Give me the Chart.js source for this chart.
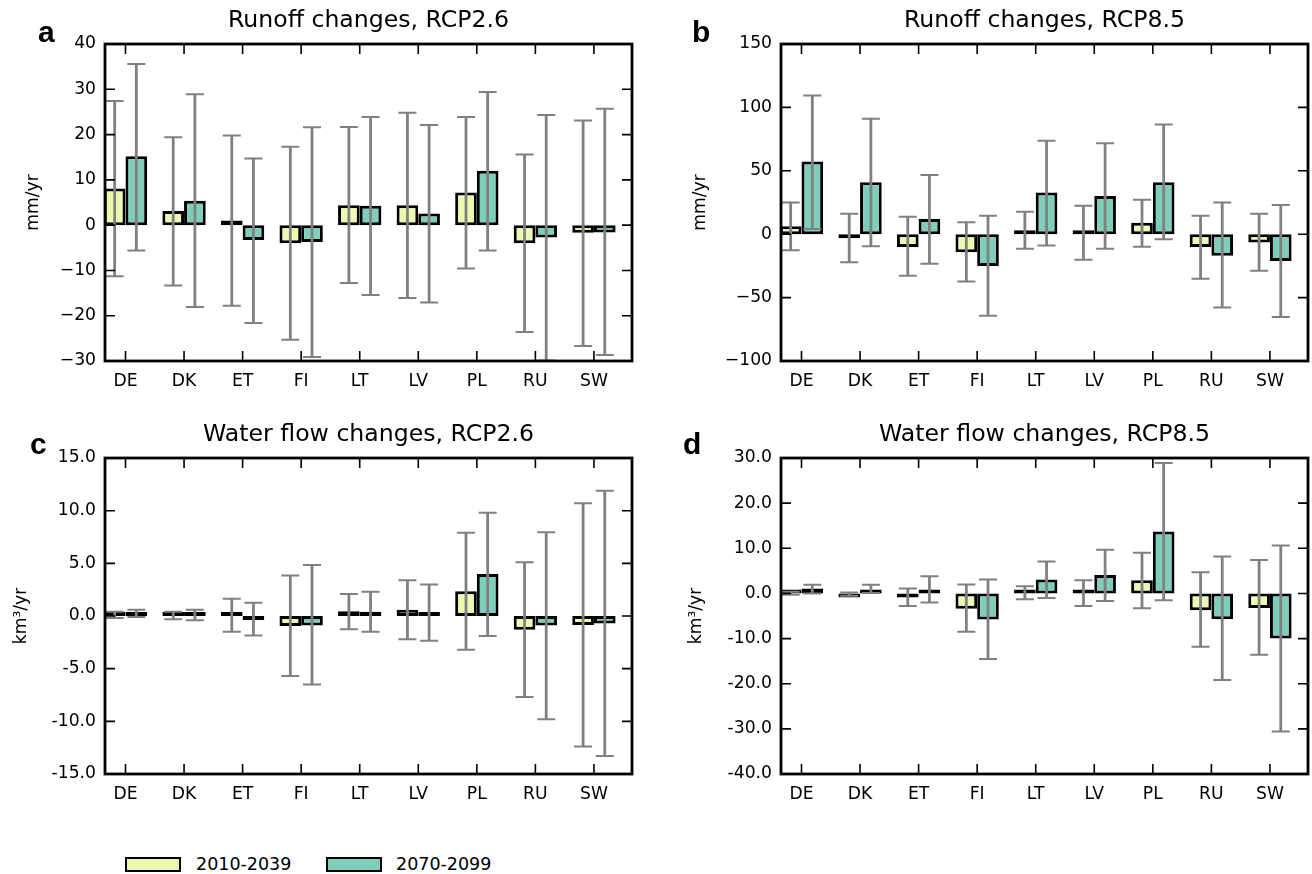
<!DOCTYPE html>
<html>
<head>
<meta charset="utf-8">
<script src="https://cdn.jsdelivr.net/npm/chart.js@4.4.1/dist/chart.umd.min.js"></script>
<style>
html,body{margin:0;padding:0;background:#fff;}
#wrap{position:relative;width:1312px;height:874px;overflow:hidden;font-family:'DejaVu Sans',sans-serif;background:#fff;}
.panel{position:absolute;}
.panel canvas{display:block;}
.letter{position:absolute;font-family:'Liberation Sans',Arial,sans-serif;font-weight:bold;font-size:30px;line-height:30px;color:#000;}
.leg-box{position:absolute;width:56px;height:15px;box-sizing:border-box;border:2.8px solid #000;}
.leg-text{position:absolute;font-family:'DejaVu Sans',sans-serif;font-size:17.5px;line-height:20px;color:#000;white-space:nowrap;}
</style>
</head>
<body>
<div id="wrap">
  <div class="panel" style="left:0px;top:0px"><canvas id="ca" width="656" height="400"></canvas></div>
  <div class="panel" style="left:676px;top:0px"><canvas id="cb" width="636" height="400"></canvas></div>
  <div class="panel" style="left:0px;top:414px"><canvas id="cc" width="656" height="400"></canvas></div>
  <div class="panel" style="left:676px;top:414px"><canvas id="cd" width="636" height="400"></canvas></div>

  <div class="letter" style="left:38px;top:17px">a</div>
  <div class="letter" style="left:692px;top:17px">b</div>
  <div class="letter" style="left:30px;top:429px">c</div>
  <div class="letter" style="left:683px;top:429px">d</div>

  <div id="legend"></div>
</div>
<script>
// ---------------- DATA ----------------
const categories = ['DE','DK','ET','FI','LT','LV','PL','RU','SW'];
const seriesNames = ['2010-2039', '2070-2099'];

// Panel a: Runoff changes, RCP2.6 (mm/yr)
const a_early    = [8.1, 3.1, 1.0, -4.0, 4.4, 4.4, 7.2, -4.0, -1.7];
const a_early_lo = [-11.3, -13.3, -17.8, -25.3, -12.8, -16.1, -9.6, -23.6, -26.7];
const a_early_hi = [27.4, 19.4, 19.8, 17.3, 21.7, 24.8, 23.9, 15.6, 23.1];
const a_late     = [15.2, 5.4, -3.3, -3.7, 4.3, 2.6, 12.0, -2.7, -1.6];
const a_late_lo  = [-5.6, -18.1, -21.6, -29.1, -15.4, -17.1, -5.6, -29.9, -28.7];
const a_late_hi  = [35.6, 28.9, 14.7, 21.6, 23.9, 22.1, 29.4, 24.3, 25.7];
const a_ticks    = [-30, 40, 10];

// Panel b: Runoff changes, RCP8.5 (mm/yr)
const b_early    = [6.3, -3.2, -10.0, -14.3, 3.2, 0.5, 9.0, -10.0, -6.6];
const b_early_lo = [-12.7, -22.2, -32.8, -37.3, -11.4, -20.1, -9.8, -35.2, -28.8];
const b_early_hi = [25.1, 16.1, 13.8, 9.5, 17.7, 22.5, 27.2, 14.6, 16.1];
const b_late     = [57.4, 41.0, 11.9, -25.1, 32.8, 30.2, 41.0, -16.9, -21.2];
const b_late_lo  = [4.2, -9.5, -23.3, -64.3, -9.0, -11.4, -4.0, -57.9, -65.3];
const b_late_hi  = [109.3, 91.0, 46.6, 14.6, 73.8, 71.7, 86.5, 25.1, 23.0];
const b_ticks    = [-100, 150, 50];

// Panel c: Water flow changes, RCP2.6 (km3/yr)
const c_early    = [0.15, 0.05, 0.05, -0.95, 0.45, 0.6, 2.35, -1.3, -0.85];
const c_early_lo = [-0.2, -0.3, -1.5, -5.7, -1.25, -2.2, -3.2, -7.7, -12.4];
const c_early_hi = [0.4, 0.4, 1.65, 3.85, 2.1, 3.4, 7.9, 5.1, 10.7];
const c_late     = [0.25, 0.1, -0.3, -0.9, 0.4, 0.35, 4.0, -0.9, -0.7];
const c_late_lo  = [-0.1, -0.4, -1.85, -6.5, -1.5, -2.35, -1.9, -9.8, -13.3];
const c_late_hi  = [0.6, 0.6, 1.25, 4.85, 2.3, 3.0, 9.8, 7.95, 11.9];
const c_ticks    = [-15, 15, 5];

// Panel d: Water flow changes, RCP8.5 (km3/yr)
const d_early    = [0.1, -0.3, -0.9, -3.4, 0.3, 0.1, 2.9, -3.7, -3.2];
const d_early_lo = [-0.3, -0.5, -2.8, -8.5, -1.3, -2.8, -3.3, -11.8, -13.6];
const d_early_hi = [0.35, 0.2, 1.1, 2.0, 1.6, 2.9, 9.0, 4.7, 7.4];
const d_late     = [1.1, 0.9, 0.9, -5.8, 3.1, 4.1, 13.7, -5.7, -10.0];
const d_late_lo  = [0.0, 0.1, -2.0, -14.5, -1.0, -1.7, -1.5, -19.2, -30.6];
const d_late_hi  = [1.9, 1.9, 3.8, 3.1, 7.1, 9.7, 28.9, 8.2, 10.6];
const d_ticks    = [-40, 30, 10];

// ---------------- STYLE ----------------
const COL_EARLY = '#edf8b1';
const COL_LATE  = '#7fcdbb';
const COL_ERR   = '#808080';
const FONT = "'DejaVu Sans'";

Chart.defaults.font.family = FONT;
Chart.defaults.color = '#000';

const mplPlugin = {
  id: 'mplDecor',
  afterDatasetsDraw(chart) {
    const ctx = chart.ctx;
    const ca = chart.chartArea;
    const xs = chart.scales.x, ys = chart.scales.y;
    // error bars
    ctx.save();
    ctx.beginPath();
    ctx.rect(ca.left, ca.top, ca.right - ca.left, ca.bottom - ca.top);
    ctx.clip();
    ctx.strokeStyle = COL_ERR;
    ctx.lineCap = 'butt';
    chart.data.datasets.forEach((ds, di) => {
      const meta = chart.getDatasetMeta(di);
      meta.data.forEach((bar, i) => {
        const px = bar.x;
        const yh = ys.getPixelForValue(ds.errHigh[i]);
        const yl = ys.getPixelForValue(ds.errLow[i]);
        ctx.lineWidth = 2.8;
        ctx.beginPath();
        ctx.moveTo(px, yh); ctx.lineTo(px, yl);
        ctx.stroke();
        ctx.lineWidth = 2;
        ctx.beginPath();
        ctx.moveTo(px - 9, yh); ctx.lineTo(px + 9, yh);
        ctx.moveTo(px - 9, yl); ctx.lineTo(px + 9, yl);
        ctx.stroke();
      });
    });
    ctx.restore();
    // inward ticks on all four sides + frame
    ctx.save();
    ctx.strokeStyle = '#000';
    ctx.lineWidth = 1.6;
    const TL = 10;
    ctx.beginPath();
    ys.ticks.forEach(t => {
      const py = ys.getPixelForValue(t.value);
      ctx.moveTo(ca.left, py); ctx.lineTo(ca.left + TL, py);
      ctx.moveTo(ca.right, py); ctx.lineTo(ca.right - TL, py);
    });
    xs.ticks.forEach(t => {
      const px = xs.getPixelForValue(t.value);
      ctx.moveTo(px, ca.bottom); ctx.lineTo(px, ca.bottom - TL);
      ctx.moveTo(px, ca.top); ctx.lineTo(px, ca.top + TL);
    });
    ctx.stroke();
    ctx.lineWidth = 2.8;
    ctx.strokeRect(ca.left, ca.top, ca.right - ca.left, ca.bottom - ca.top);
    ctx.restore();
  }
};

function fmtMinus(v) { return v < 0 ? '\u2212' + Math.abs(v) : String(v); }
function fmtOneDec(v) { return Number(v).toFixed(1); }

function makePanel(id, opt) {
  const mkData = arr => arr.map((v, i) => ({x: i, y: v}));
  const dsCommon = {
    borderColor: '#000',
    borderWidth: 3,
    borderSkipped: false,
    minBarLength: 4,
    categoryPercentage: 0.74,
    barPercentage: 1.0
  };
  return new Chart(document.getElementById(id), {
    type: 'bar',
    data: {
      datasets: [
        Object.assign({label: seriesNames[0], data: mkData(opt.early), backgroundColor: COL_EARLY,
          errLow: opt.earlyLo, errHigh: opt.earlyHi}, dsCommon),
        Object.assign({label: seriesNames[1], data: mkData(opt.late), backgroundColor: COL_LATE,
          errLow: opt.lateLo, errHigh: opt.lateHi}, dsCommon)
      ]
    },
    options: {
      responsive: false,
      animation: false,
      layout: {padding: {left: 0, right: opt.padRight, top: 0, bottom: 0}},
      plugins: {
        legend: {display: false},
        tooltip: {enabled: false},
        title: {
          display: true,
          text: opt.title,
          fullSize: false,
          color: '#000',
          font: {family: FONT, size: 23.6, weight: 'normal', lineHeight: 1.2},
          padding: {top: 7, bottom: 8.7}
        }
      },
      scales: {
        x: {
          type: 'linear',
          offset: false,
          min: -0.35,
          max: 8.65,
          grid: {display: false, drawTicks: false},
          border: {display: false},
          afterBuildTicks: s => { s.ticks = categories.map((c, i) => ({value: i})); },
          afterFit: s => { s.height = opt.xHeight; },
          ticks: {
            autoSkip: false, maxRotation: 0, minRotation: 0,
            padding: 10,
            color: '#000',
            font: {family: FONT, size: 17.2},
            callback: v => categories[v] !== undefined ? categories[v] : ''
          }
        },
        y: {
          type: 'linear',
          min: opt.ticks[0],
          max: opt.ticks[1],
          grid: {display: false, drawTicks: false},
          border: {display: false},
          afterFit: s => { s.width = 105; },
          ticks: {
            stepSize: opt.ticks[2],
            padding: 9,
            color: '#000',
            font: {family: FONT, size: 17.2},
            callback: opt.fmt
          },
          title: {
            display: true,
            text: opt.yTitle,
            color: '#000',
            font: {family: FONT, size: 17.2},
            padding: {top: opt.yTitlePad, bottom: 0}
          }
        }
      }
    },
    plugins: [mplPlugin]
  });
}

makePanel('ca', {title: 'Runoff changes, RCP2.6', yTitle: 'mm/yr', yTitlePad: 23, padRight: 24, xHeight: 39,
  ticks: a_ticks, fmt: fmtMinus,
  early: a_early, earlyLo: a_early_lo, earlyHi: a_early_hi, late: a_late, lateLo: a_late_lo, lateHi: a_late_hi});
makePanel('cb', {title: 'Runoff changes, RCP8.5', yTitle: 'mm/yr', yTitlePad: 14, padRight: 4, xHeight: 39,
  ticks: b_ticks, fmt: fmtMinus,
  early: b_early, earlyLo: b_early_lo, earlyHi: b_early_hi, late: b_late, lateLo: b_late_lo, lateHi: b_late_hi});
makePanel('cc', {title: 'Water flow changes, RCP2.6', yTitle: 'km\u00b3/yr', yTitlePad: 11, padRight: 24, xHeight: 40,
  ticks: c_ticks, fmt: fmtOneDec,
  early: c_early, earlyLo: c_early_lo, earlyHi: c_early_hi, late: c_late, lateLo: c_late_lo, lateHi: c_late_hi});
makePanel('cd', {title: 'Water flow changes, RCP8.5', yTitle: 'km\u00b3/yr', yTitlePad: 10, padRight: 4, xHeight: 40,
  ticks: d_ticks, fmt: fmtOneDec,
  early: d_early, earlyLo: d_early_lo, earlyHi: d_early_hi, late: d_late, lateLo: d_late_lo, lateHi: d_late_hi});

// ---------------- LEGEND ----------------
(function () {
  const leg = document.getElementById('legend');
  const cols = [COL_EARLY, COL_LATE];
  const boxLeft = [125, 326];
  const textLeft = [196, 396];
  seriesNames.forEach((name, i) => {
    const b = document.createElement('div');
    b.className = 'leg-box';
    b.style.left = boxLeft[i] + 'px';
    b.style.top = '857px';
    b.style.background = cols[i];
    leg.appendChild(b);
    const t = document.createElement('div');
    t.className = 'leg-text';
    t.style.left = textLeft[i] + 'px';
    t.style.top = '854px';
    t.textContent = name;
    leg.appendChild(t);
  });
})();
</script>
</body>
</html>
